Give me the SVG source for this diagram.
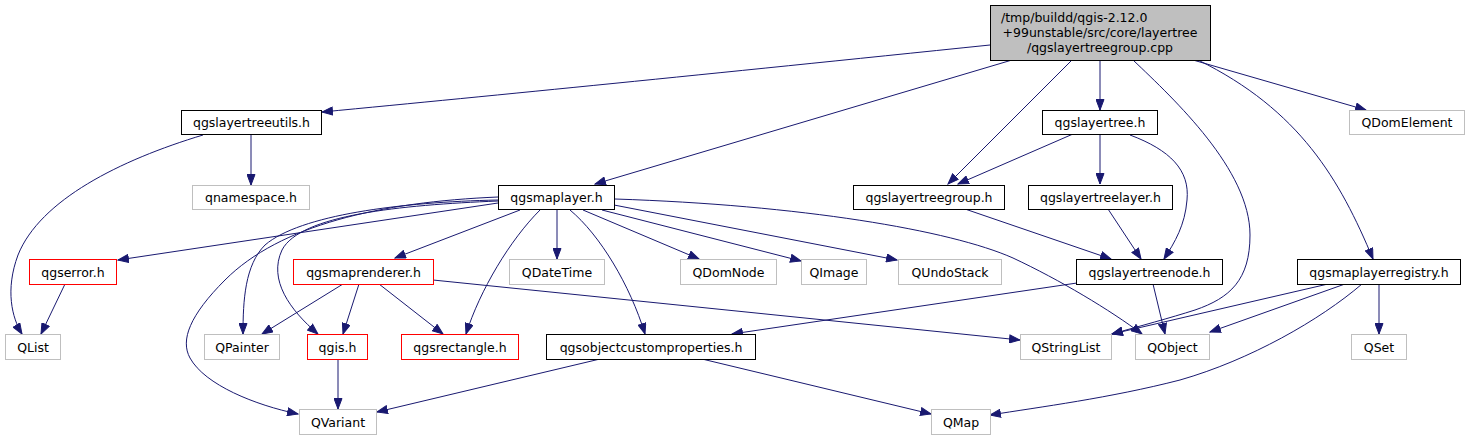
<svg xmlns="http://www.w3.org/2000/svg" width="1471" height="440" viewBox="0 0 1471 440">
<defs>
<style>
text{font-family:"DejaVu Sans","Liberation Sans",sans-serif;font-size:12.5px;fill:#000;text-anchor:middle}
.n rect{fill:#fff;stroke:#000;stroke-width:1}
.g rect{fill:#fff;stroke:#bfbfbf;stroke-width:1}
.r rect{fill:#fff;stroke:#ff0000;stroke-width:1}
#edges path{fill:none;stroke:#191970;stroke-width:1;marker-end:url(#ah)}
</style>
<marker id="ah" markerUnits="userSpaceOnUse" markerWidth="12" markerHeight="9" refX="11" refY="4.5" orient="auto" viewBox="0 0 12 9">
<path d="M0.5,0.5 L11,4.5 L0.5,8.5 z" fill="#191970" stroke="#191970" stroke-width="1"/>
</marker>
</defs>
<rect width="1471" height="440" fill="#fff"/>
<g id="edges">
<path d="M990,45 C700,75 500,95 322,112"/>
<path d="M1012,60 L595,184"/>
<path d="M1100,60 L1100,110"/>
<path d="M1072,60 L948,184"/>
<path d="M1133,60 C1175,100 1250,170 1250,235 C1250,280 1230,298 1195,310 C1170,318 1140,326 1112,334"/>
<path d="M1193,60 L1366,110"/>
<path d="M1198,60 C1300,110 1340,180 1373,259"/>
<path d="M251,134 L251,185"/>
<path d="M1073,134 L958,184"/>
<path d="M1100,134 L1100,184"/>
<path d="M1130,135 C1170,150 1190,170 1187,200 C1185,225 1175,242 1164,259"/>
<path d="M965,209 L1111,259"/>
<path d="M1108,209 L1141,259"/>
<path d="M1153,284 L1165,334"/>
<path d="M1077,283 L732,334"/>
<path d="M615,199 C800,205 950,230 1013,258 C1060,280 1110,310 1142,334"/>
<path d="M614,205 L897,260"/>
<path d="M602,210 L801,261"/>
<path d="M583,210 L699,259"/>
<path d="M557,210 L557,259"/>
<path d="M570,210 C600,235 630,285 645,334"/>
<path d="M540,210 C510,240 480,290 466,334"/>
<path d="M520,210 L395,258"/>
<path d="M498,203 L118,260"/>
<path d="M498,197 C380,202 280,225 225,280 C190,315 180,340 190,358 C205,385 255,405 298,414"/>
<path d="M498,200 C400,202 300,215 265,245 C245,265 243,300 243,334"/>
<path d="M498,201 C400,205 300,215 282,250 C268,280 290,310 318,334"/>
<path d="M343,284 L262,334"/>
<path d="M359,284 L343,334"/>
<path d="M379,284 L443,334"/>
<path d="M433,280 L1020,340"/>
<path d="M338,359 L338,409"/>
<path d="M65,284 L41,334"/>
<path d="M203,135 C120,160 40,200 18,255 C5,290 12,318 22,334"/>
<path d="M600,359 L377,412"/>
<path d="M702,359 L931,414"/>
<path d="M1328,284 L1112,334"/>
<path d="M1345,284 L1210,332"/>
<path d="M1379,284 L1379,334"/>
<path d="M1362,284 C1320,320 1250,360 1180,380 C1110,398 1040,407 990,415"/>
</g>
<g id="root" class="n"><rect x="990.5" y="5.5" width="220" height="55" style="fill:#bfbfbf"/>
<text x="1001" y="22" style="text-anchor:start">/tmp/buildd/qgis-2.12.0</text>
<text x="1100" y="37">+99unstable/src/core/layertree</text>
<text x="1100" y="52">/qgslayertreegroup.cpp</text></g>
<g id="qgslayertreeutils" class="n"><rect x="181.5" y="110.5" width="140" height="24"/><text x="251.5" y="127">qgslayertreeutils.h</text></g>
<g id="qgslayertree" class="n"><rect x="1042.5" y="110.5" width="115" height="24"/><text x="1100" y="127">qgslayertree.h</text></g>
<g id="QDomElement" class="g"><rect x="1349.5" y="110.5" width="115" height="24"/><text x="1407" y="127">QDomElement</text></g>
<g id="qnamespace" class="g"><rect x="192.5" y="185.5" width="117" height="24"/><text x="251" y="202">qnamespace.h</text></g>
<g id="qgsmaplayer" class="n"><rect x="498.5" y="185.5" width="116" height="24"/><text x="556.5" y="202">qgsmaplayer.h</text></g>
<g id="qgslayertreegroup" class="n"><rect x="853.5" y="185.5" width="151" height="24"/><text x="929" y="202">qgslayertreegroup.h</text></g>
<g id="qgslayertreelayer" class="n"><rect x="1028.5" y="185.5" width="144" height="24"/><text x="1100.5" y="202">qgslayertreelayer.h</text></g>
<g id="qgserror" class="r"><rect x="29.5" y="259.5" width="87" height="25"/><text x="73" y="276.5">qgserror.h</text></g>
<g id="qgsmaprenderer" class="r"><rect x="293.5" y="259.5" width="140" height="25"/><text x="363.5" y="276.5">qgsmaprenderer.h</text></g>
<g id="QDateTime" class="g"><rect x="509.5" y="259.5" width="95" height="25"/><text x="557" y="276.5">QDateTime</text></g>
<g id="QDomNode" class="g"><rect x="680.5" y="259.5" width="96" height="25"/><text x="728.5" y="276.5">QDomNode</text></g>
<g id="QImage" class="g"><rect x="801.5" y="259.5" width="65" height="25"/><text x="834" y="276.5">QImage</text></g>
<g id="QUndoStack" class="g"><rect x="898.5" y="259.5" width="103" height="25"/><text x="950" y="276.5">QUndoStack</text></g>
<g id="qgslayertreenode" class="n"><rect x="1076.5" y="259.5" width="146" height="25"/><text x="1149.5" y="276.5">qgslayertreenode.h</text></g>
<g id="qgsmaplayerregistry" class="n"><rect x="1297.5" y="259.5" width="163" height="25"/><text x="1379" y="276.5">qgsmaplayerregistry.h</text></g>
<g id="QList" class="g"><rect x="5.5" y="334.5" width="55" height="25"/><text x="33" y="351.5">QList</text></g>
<g id="QPainter" class="g"><rect x="204.5" y="334.5" width="75" height="25"/><text x="242" y="351.5">QPainter</text></g>
<g id="qgis" class="r"><rect x="307.5" y="334.5" width="60" height="25"/><text x="337.5" y="351.5">qgis.h</text></g>
<g id="qgsrectangle" class="r"><rect x="401.5" y="334.5" width="117" height="25"/><text x="460" y="351.5">qgsrectangle.h</text></g>
<g id="qgsobjectcustomproperties" class="n"><rect x="546.5" y="334.5" width="209" height="25"/><text x="651" y="351.5">qgsobjectcustomproperties.h</text></g>
<g id="QStringList" class="g"><rect x="1020.5" y="334.5" width="91" height="25"/><text x="1066" y="351.5">QStringList</text></g>
<g id="QObject" class="g"><rect x="1135.5" y="334.5" width="74" height="25"/><text x="1172.5" y="351.5">QObject</text></g>
<g id="QSet" class="g"><rect x="1351.5" y="334.5" width="55" height="25"/><text x="1379" y="351.5">QSet</text></g>
<g id="QVariant" class="g"><rect x="299.5" y="409.5" width="77" height="25"/><text x="338" y="426.5">QVariant</text></g>
<g id="QMap" class="g"><rect x="931.5" y="409.5" width="59" height="25"/><text x="961" y="426.5">QMap</text></g>
</svg>
